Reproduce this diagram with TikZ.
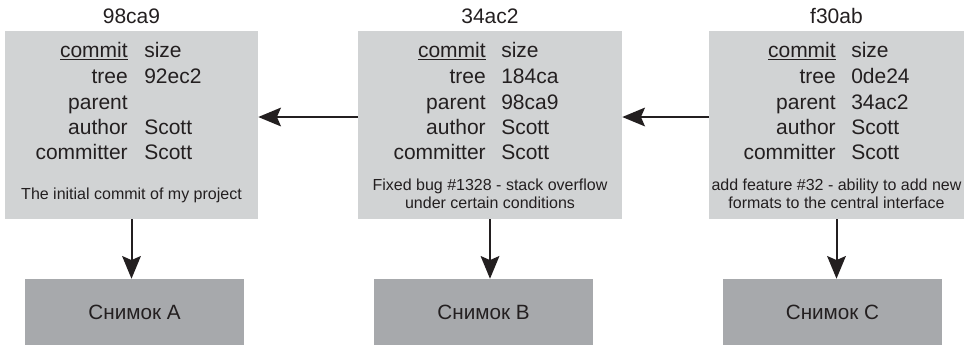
\documentclass[tikz,border=0pt]{standalone}
\usepackage{fontspec}
\setmainfont{Liberation Sans}
\usetikzlibrary{arrows.meta}

\definecolor{boxgray}{HTML}{D1D3D4}
\definecolor{snapgray}{HTML}{A7A9AC}
\definecolor{inkgray}{HTML}{231F20}

\begin{document}
\begin{tikzpicture}[
    x=0.75pt, y=-0.75pt,
    every node/.style={text=inkgray, inner sep=0pt},
    commitbox/.style={fill=boxgray, minimum height=141pt},
    snapbox/.style={fill=snapgray, minimum width=164.25pt, minimum height=49.5pt,
        font=\fontsize{15.5}{17}\selectfont},
    field/.style={anchor=base east, font=\fontsize{15.75}{18}\selectfont},
    value/.style={anchor=base west, font=\fontsize{15.75}{18}\selectfont},
    hash/.style={anchor=base, font=\fontsize{15.75}{18}\selectfont},
    msg/.style={align=center, font=\fontsize{12}{13.5}\selectfont},
    link/.style={draw=inkgray, line width=1.5pt,
        -{Stealth[length=17pt, width=14pt, inset=3pt]}}
]

\useasboundingbox (0,0) rectangle (968,344);

% Commit objects
\node[commitbox, minimum width=189.75pt] (c1) at (131.5,125) {};
\node[commitbox, minimum width=198pt]    (c2) at (490,125)   {};
\node[commitbox, minimum width=191.25pt] (c3) at (836.5,125) {};

% Hashes
\node[hash] (h1) at (131.5,23) {98ca9};
\node[hash] (h2) at (490,23)   {34ac2};
\node[hash] (h3) at (836.5,23) {f30ab};

% Fields of 98ca9
\node[field] (k1a) at (128,57)  {\underline{commit}};
\node[field] (k1b) at (128,83)  {tree};
\node[field] (k1c) at (128,109) {parent};
\node[field] (k1d) at (128,134) {author};
\node[field] (k1e) at (128,159) {committer};
\node[value] (v1a) at (144,57)  {size};
\node[value] (v1b) at (144,83)  {92ec2};
\node[value] (v1d) at (144,134) {Scott};
\node[value] (v1e) at (144,159) {Scott};
\node[msg]   (m1)  at (131.5,195) {The initial commit of my project};

% Fields of 34ac2
\node[field] (k2a) at (486,57)  {\underline{commit}};
\node[field] (k2b) at (486,83)  {tree};
\node[field] (k2c) at (486,109) {parent};
\node[field] (k2d) at (486,134) {author};
\node[field] (k2e) at (486,159) {committer};
\node[value] (v2a) at (501,57)  {size};
\node[value] (v2b) at (501,83)  {184ca};
\node[value] (v2c) at (501,109) {98ca9};
\node[value] (v2d) at (501,134) {Scott};
\node[value] (v2e) at (501,159) {Scott};
\node[msg]   (m2)  at (490,194) {Fixed bug \#1328 - stack overflow\\under certain conditions};

% Fields of f30ab
\node[field] (k3a) at (836,57)  {\underline{commit}};
\node[field] (k3b) at (836,83)  {tree};
\node[field] (k3c) at (836,109) {parent};
\node[field] (k3d) at (836,134) {author};
\node[field] (k3e) at (836,159) {committer};
\node[value] (v3a) at (851,57)  {size};
\node[value] (v3b) at (851,83)  {0de24};
\node[value] (v3c) at (851,109) {34ac2};
\node[value] (v3d) at (851,134) {Scott};
\node[value] (v3e) at (851,159) {Scott};
\node[msg]   (m3)  at (836.5,194) {add feature \#32 - ability to add new\\formats to the central interface};

% Snapshots
\node[snapbox] (s1) at (134.5,312) {Снимок A};
\node[snapbox] (s2) at (483.5,312) {Снимок B};
\node[snapbox] (s3) at (832.5,312) {Снимок C};

% Parent links
\draw[link] ([yshift=6pt]c2.west) -- ([yshift=6pt]c1.east);
\draw[link] ([yshift=6pt]c3.west) -- ([yshift=6pt]c2.east);

% Tree links
\draw[link] (c1.south) -- (c1.south |- s1.north);
\draw[link] (c2.south) -- (c2.south |- s2.north);
\draw[link] (c3.south) -- (c3.south |- s3.north);

\end{tikzpicture}
\end{document}
